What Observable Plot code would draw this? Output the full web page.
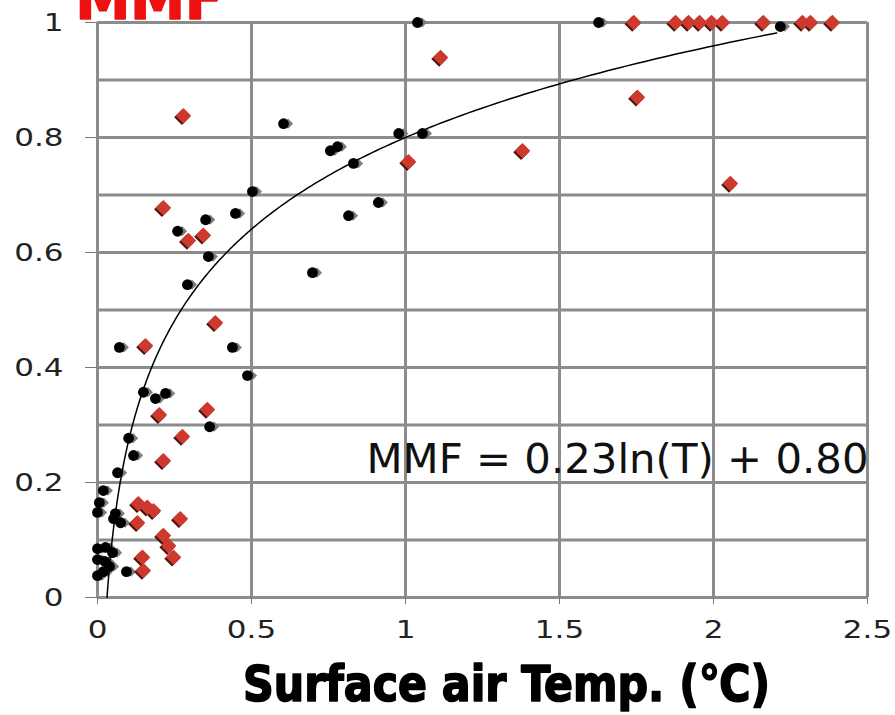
<!DOCTYPE html>
<html>
<head>
<meta charset="utf-8">
<script src="https://cdn.jsdelivr.net/npm/d3@7"></script>
<script src="https://cdn.jsdelivr.net/npm/@observablehq/plot@0.6"></script>
<style>
  body { margin: 0; background: #fff; }
</style>
</head>
<body>
<div id="chart"></div>
<script>
// Black series: surface air temperature (°C) and MMF
const blackT = [1.039, 1.627, 2.217, 0.604, 0.756, 0.779, 0.978, 1.055, 0.831, 0.912,
  0.815, 0.698, 0.503, 0.448, 0.351, 0.260, 0.360, 0.292, 0.071, 0.438,
  0.487, 0.149, 0.188, 0.221, 0.364, 0.101, 0.117, 0.065, 0.019, 0.006,
  0.000, 0.058, 0.052, 0.075, 0.094, 0.000, 0.026, 0.049, 0.000, 0.023,
  0.039, 0.000, 0.019];
const blackM = [1.000, 1.000, 0.993, 0.824, 0.777, 0.784, 0.807, 0.807, 0.755, 0.687,
  0.664, 0.565, 0.706, 0.668, 0.657, 0.637, 0.593, 0.544, 0.435, 0.435,
  0.386, 0.357, 0.346, 0.355, 0.297, 0.277, 0.247, 0.217, 0.186, 0.165,
  0.148, 0.146, 0.137, 0.130, 0.045, 0.085, 0.087, 0.078, 0.066, 0.063,
  0.054, 0.038, 0.045];

// Red series
const redT = [1.741, 1.877, 1.919, 1.955, 1.994, 2.029, 2.162, 2.289, 2.315, 2.386,
  1.114, 1.753, 1.380, 1.010, 2.055, 0.279, 0.214, 0.295, 0.344, 0.383,
  0.156, 0.201, 0.357, 0.276, 0.214, 0.133, 0.162, 0.182, 0.130, 0.269,
  0.214, 0.231, 0.247, 0.146, 0.149];
const redM = [1.000, 1.000, 1.000, 1.000, 1.000, 1.000, 1.000, 1.000, 1.000, 1.000,
  0.939, 0.870, 0.777, 0.758, 0.720, 0.838, 0.678, 0.621, 0.630, 0.478,
  0.438, 0.318, 0.327, 0.280, 0.238, 0.163, 0.157, 0.151, 0.130, 0.137,
  0.108, 0.090, 0.070, 0.070, 0.047];

// Axis ticks and grid
const xTicks = [0, 0.5, 1, 1.5, 2, 2.5];
const yTicks = [0, 0.2, 0.4, 0.6, 0.8, 1];
const yGrid = [0, 0.1, 0.2, 0.3, 0.4, 0.5, 0.6, 0.7, 0.8, 0.9, 1];

// Logarithmic trend line MMF = a ln(T) + b
const fitA = 0.23, fitB = 0.80, fitEnd = 2.205;
const equationLabel = "MMF = 0.23ln(T) + 0.80";
const xTitle = "Surface air Temp. (\u2103)";
const headTitle = "MMF";

const black = blackT.map((t, i) => ({t, m: blackM[i]}));
const red = redT.map((t, i) => ({t, m: redM[i]}));
const fitStart = Math.exp(-fitB / fitA);
const fit = d3.range(0, 241).map(i => {
  const t = fitStart * Math.pow(fitEnd / fitStart, i / 240);
  return {t, m: fitA * Math.log(t) + fitB};
});

const gridColor = "#8c8c8c";

const chart = Plot.plot({
  width: 895,
  height: 715,
  marginLeft: 97,
  marginRight: 28,
  marginTop: 22,
  marginBottom: 118,
  style: {background: "#fff", fontFamily: "DejaVu Sans"},
  x: {domain: [0, 2.5]},
  y: {domain: [0, 1]},
  marks: [
    Plot.gridY(yGrid, {stroke: gridColor, strokeOpacity: 1, strokeWidth: 3}),
    Plot.gridX(xTicks, {stroke: gridColor, strokeOpacity: 1, strokeWidth: 3}),
    Plot.axisY(yTicks, {
      tickSize: 12, tickPadding: 22, fontSize: 25, fill: "#222", stroke: "#777",
      tickFormat: d => String(d), label: null
    }),
    Plot.axisX(xTicks, {
      tickSize: 7, tickPadding: 16, fontSize: 25, fill: "#222", stroke: "#777",
      tickFormat: d => String(d), label: null
    }),
    // black markers with their grey drop shape
    Plot.dot(black, {x: "t", y: "m", symbol: "diamond2", r: 4.6, fill: "#7d7d7d", dx: 4.5}),
    Plot.dot(black, {x: "t", y: "m", r: 5.4, fill: "#000"}),
    // red diamonds with a dark lower edge
    Plot.dot(red, {x: "t", y: "m", symbol: "diamond2", r: 7, fill: "#4a1410", dx: -1.5, dy: 1.5}),
    Plot.dot(red, {x: "t", y: "m", symbol: "diamond2", r: 7, fill: "#cd3a2d"}),
    Plot.line(fit, {x: "t", y: "m", stroke: "#000", strokeWidth: 1.5}),
    Plot.text([equationLabel], {
      x: 0.8734, y: 0.2157, textAnchor: "start", lineAnchor: "bottom",
      fontSize: 41, fontFamily: "DejaVu Sans", fill: "#111"
    }),
    Plot.text([xTitle], {
      frameAnchor: "bottom", dx: 24, dy: 103, lineAnchor: "bottom",
      fontSize: 50, fontWeight: "bold", fontFamily: "DejaVu Sans Condensed, DejaVu Sans",
      fill: "#000", stroke: "#000", strokeWidth: 1.6
    }),
    Plot.text([headTitle], {
      frameAnchor: "top-left", dx: -22, dy: -4, textAnchor: "start", lineAnchor: "bottom",
      fontSize: 59, fontWeight: "bold", fontFamily: "DejaVu Sans Condensed, DejaVu Sans",
      fill: "#ee1111", stroke: "#ee1111", strokeWidth: 1.6
    })
  ]
});

document.getElementById("chart").appendChild(chart);

// Widen the tick labels and fit the annotation texts to their widths
function fitLength(el, len) {
  el.setAttribute("textLength", len);
  el.setAttribute("lengthAdjust", "spacingAndGlyphs");
}
chart.querySelectorAll('g[aria-label="y-axis tick label"] text, g[aria-label="x-axis tick label"] text')
  .forEach(el => fitLength(el, el.getComputedTextLength() * 1.24));
const textGroups = chart.querySelectorAll('g[aria-label="text"]');
fitLength(textGroups[0].querySelector("text"), 502);
fitLength(textGroups[1].querySelector("text"), 527);
fitLength(textGroups[2].querySelector("text"), 147);
</script>
</body>
</html>
